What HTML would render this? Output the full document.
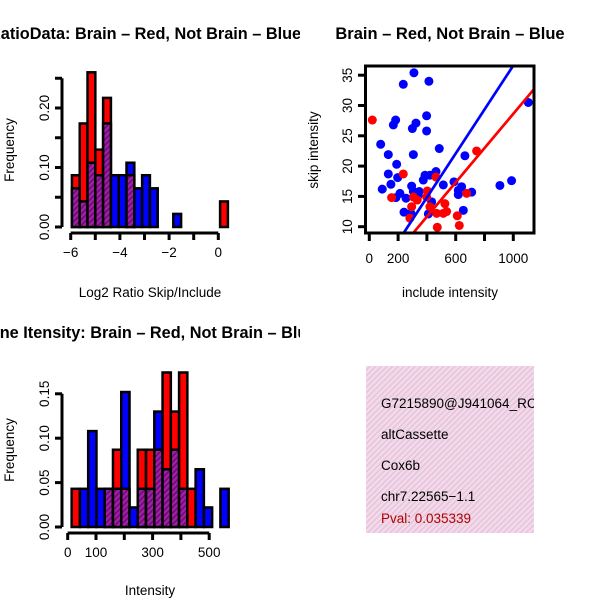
<!DOCTYPE html>
<html><head><meta charset="utf-8"><style>
html,body{margin:0;padding:0;background:#fff}
svg{display:block;font-family:"Liberation Sans",sans-serif}
</style></head><body>
<svg id="s" width="600" height="600" viewBox="0 0 600 600" xmlns="http://www.w3.org/2000/svg">
<defs>
<pattern id="hatch" width="4" height="4" patternUnits="userSpaceOnUse" patternTransform="rotate(45)">
<rect width="4" height="4" fill="#a020a0"/><rect width="1.5" height="4" fill="#6a0a7a"/>
</pattern>
<pattern id="pink" width="4" height="4" patternUnits="userSpaceOnUse" patternTransform="rotate(45)">
<rect width="4" height="4" fill="#f6d6f0"/><rect width="1.3" height="4" fill="#dcc8cc"/>
</pattern>
<clipPath id="c1"><rect x="0" y="0" width="300" height="60"/></clipPath>
<clipPath id="c3"><rect x="0" y="300" width="300" height="60"/></clipPath>
<clipPath id="c2"><rect x="365" y="65" width="170" height="168"/></clipPath>
<clipPath id="c4"><rect x="366" y="366" width="168" height="167"/></clipPath>
</defs>
<g clip-path="url(#c1)"><text x="-11" y="39" font-size="16.3" font-weight="bold">RatioData: Brain – Red, Not Brain – Blue</text></g>
<text x="450" y="39" font-size="16.5" font-weight="bold" text-anchor="middle">Brain – Red, Not Brain – Blue</text>
<g clip-path="url(#c3)"><text x="-22" y="338" font-size="16.3" font-weight="bold">Gene Itensity: Brain – Red, Not Brain – Blue</text></g>
<g id="p1"></g>
<g id="p2"></g>
<g id="p3"></g>
<g>
<rect x="366" y="366" width="168" height="167" fill="url(#pink)"/>
<g clip-path="url(#c4)" font-size="13.5">
<text x="381" y="408">G7215890@J941064_RC</text>
<text x="381" y="439">altCassette</text>
<text x="381" y="470">Cox6b</text>
<text x="381" y="501">chr7.22565−1.1</text>
<text x="381" y="523" fill="#b00000">Pval: 0.035339</text>
</g></g>
</svg>
<script>
// ---- ratio histogram data
const ratioBinStart = -5.95;
const ratioBinWidth = 0.317;
const ratioRed  = [0.087,0.174,0.26,0.13,0.217,0,0,0.087,0,0,0,0,0,0,0,0,0,0,0,0.043];
const ratioBlue = [0.065,0.043,0.108,0.087,0.174,0.087,0.087,0.108,0.065,0.087,0.065,0,0,0.022,0,0,0,0,0,0];
const ratioXTicks = [-6,-5,-4,-3,-2,-1,0];
const ratioXLabels = ["−6","","−4","","−2","","0"];
const ratioYTicks = [0,0.05,0.10,0.15,0.20,0.25];
const ratioYLabels = ["0.00","","0.10","","0.20",""];
// ---- intensity histogram data
const intBinStart = 14;
const intBinWidth = 29.2;
const intRed  = [0.043,0,0,0,0.043,0.087,0.043,0,0.087,0.087,0.087,0.174,0.13,0.174,0.043,0,0,0,0];
const intBlue = [0,0.043,0.108,0.043,0.043,0.043,0.152,0.022,0.043,0.043,0.13,0.065,0.087,0.043,0,0.065,0.022,0,0.043];
const intXTicks = [0,100,200,300,400,500];
const intXLabels = ["0","100","","300","","500"];
const intYTicks = [0,0.05,0.10,0.15];
const intYLabels = ["0.00","0.05","0.10","0.15"];
// ---- scatter data
const blueX = [310,236,414,79,132,132,150,90,190,197,167,183,299,324,398,398,306,486,664,988,907,1104,421,463,375,387,514,588,618,618,641,711,653,213,255,294,306,340,241,289,410,433,185,347];
const blueY = [35.4,33.5,34.0,23.6,21.9,18.7,17.0,16.2,20.3,18.1,26.8,27.6,26.2,27.1,28.3,25.8,21.9,22.9,21.7,17.6,16.8,30.5,18.5,19.1,17.7,18.5,16.9,17.4,16.0,15.3,16.6,15.7,12.7,15.5,14.7,16.7,15.8,15.2,12.4,12.2,12.1,14.1,14.8,15.8];
const redX = [21,236,155,403,463,745,676,306,294,282,333,421,468,472,525,537,514,611,625,398];
const redY = [27.6,18.7,14.8,15.9,18.2,22.5,15.5,14.9,13.3,11.4,14.4,13.3,12.2,9.9,13.8,12.5,12.2,11.8,10.2,14.9];
const fitIntercept = [0.3,0.33]; // blue, red
const fitSlope = [0.0363,0.0283];
const scXTicks = [0,200,400,600,800,1000];
const scXLabels = ["0","200","","600","","1000"];
const scYTicks = [10,15,20,25,30,35];

const NS="http://www.w3.org/2000/svg";
const FS=13.5;
function mk(parent,tag,attrs,text){const e=document.createElementNS(NS,tag);for(const k in attrs)e.setAttribute(k,attrs[k]);if(text!==undefined)e.textContent=text;parent.appendChild(e);return e;}

function hist(g,o){
  const sx=v=>o.x0+(v-o.xmin)*o.xs, sy=v=>o.y0-v*o.ys;
  for(let i=0;i<o.red.length;i++){
    const r=o.red[i],b=o.blue[i];
    const xa=sx(o.start+i*o.w), xb=sx(o.start+(i+1)*o.w);
    const mx=Math.max(r,b), mn=Math.min(r,b);
    if(mx>0){
      const e=mk(g,'rect',{x:xa,y:sy(mx),width:xb-xa,height:sy(0)-sy(mx),fill:r>b?'#ff0000':'#0000ff',stroke:'#000','stroke-width':2.5});
      
      
    }
    if(mn>0){
      const e=mk(g,'rect',{x:xa,y:sy(mn),width:xb-xa,height:sy(0)-sy(mn),fill:'url(#hatch)',stroke:'#000','stroke-width':2.5});
      
      
    }
  }
  const ya=mk(g,'line',{x1:o.yax,x2:o.yax,y1:sy(o.yt[0]),y2:sy(o.yt[o.yt.length-1]),stroke:'#000','stroke-width':3});
  
  
  o.yt.forEach((t,i)=>{
    mk(g,'line',{x1:o.yax-7,x2:o.yax,y1:sy(t),y2:sy(t),stroke:'#000','stroke-width':3});
    if(o.yl[i]){const e=mk(g,'text',{x:0,y:0,'font-size':FS,'text-anchor':'middle',transform:`translate(${o.yax-13},${sy(t)}) rotate(-90)`},o.yl[i]);
      
      }
  });
  const xa=mk(g,'line',{x1:sx(o.xt[0]),x2:sx(o.xt[o.xt.length-1]),y1:o.xax,y2:o.xax,stroke:'#000','stroke-width':3});
  
  
  o.xt.forEach((t,i)=>{
    mk(g,'line',{x1:sx(t),x2:sx(t),y1:o.xax,y2:o.xax+7,stroke:'#000','stroke-width':3});
    if(o.xl[i]){const e=mk(g,'text',{x:sx(t),y:o.xax+24,'font-size':FS,'text-anchor':'middle'},o.xl[i]);
      
      }
  });
  const yl=mk(g,'text',{x:0,y:0,'font-size':FS,'text-anchor':'middle',transform:`translate(14,${o.ylabY}) rotate(-90)`},'Frequency');
  
  
  const xl=mk(g,'text',{x:o.xlabX,y:o.xlabY,'font-size':FS,'text-anchor':'middle'},o.xlab);
  
  
}

hist(document.getElementById('p1'),{red:ratioRed,blue:ratioBlue,start:ratioBinStart,w:ratioBinWidth,
  x0:70.7,xmin:-6,xs:24.6,y0:227,ys:595,yax:62,xax:233,yt:ratioYTicks,yl:ratioYLabels,xt:ratioXTicks,xl:ratioXLabels,
  ylabY:150,xlabX:150,xlabY:297,xlab:'Log2 Ratio Skip/Include'});
hist(document.getElementById('p3'),{red:intRed,blue:intBlue,start:intBinStart,w:intBinWidth,
  x0:67.7,xmin:0,xs:0.283,y0:527,ys:888,yax:62,xax:533,yt:intYTicks,yl:intYLabels,xt:intXTicks,xl:intXLabels,
  ylabY:450,xlabX:150,xlabY:595,xlab:'Intensity'});

(function(){
  const g=document.getElementById('p2');
  const sx=v=>369.3+v*0.144, sy=v=>226.7-(v-10)*6.06;
  const pg=mk(g,'g',{'clip-path':'url(#c2)'});
  blueX.forEach((x,i)=>{const c=mk(pg,'circle',{cx:sx(x),cy:sy(blueY[i]),r:4.5,fill:'#0000ff'});
    
    });
  redX.forEach((x,i)=>{const c=mk(pg,'circle',{cx:sx(x),cy:sy(redY[i]),r:4.5,fill:'#ff0000'});
    
    });
  ['#0000ff','#ff0000'].forEach((col,k)=>{
    const l=mk(pg,'line',{x1:sx(0),y1:sy(fitIntercept[k]),x2:sx(1300),y2:sy(fitIntercept[k]+fitSlope[k]*1300),stroke:col,'stroke-width':2.7});
    
    
  });
  const b=mk(g,'rect',{x:365.5,y:66,width:168.5,height:167,fill:'none',stroke:'#000','stroke-width':3});
  
  
  scXTicks.forEach((t,i)=>{mk(g,'line',{x1:sx(t),x2:sx(t),y1:234,y2:241,stroke:'#000','stroke-width':3});
    if(scXLabels[i]){const e=mk(g,'text',{x:sx(t),y:263,'font-size':FS,'text-anchor':'middle'},scXLabels[i]);
      
      }});
  scYTicks.forEach(t=>{mk(g,'line',{x1:358,x2:365,y1:sy(t),y2:sy(t),stroke:'#000','stroke-width':3});
    const e=mk(g,'text',{x:0,y:0,'font-size':FS,'text-anchor':'middle',transform:`translate(352,${sy(t)}) rotate(-90)`},String(t));
    
    });
  const yl=mk(g,'text',{x:0,y:0,'font-size':FS,'text-anchor':'middle',transform:'translate(318,150) rotate(-90)'},'skip intensity');
  
  
  const xl=mk(g,'text',{x:450,y:297,'font-size':FS,'text-anchor':'middle'},'include intensity');
  
  
})();
</script>
</body></html>
